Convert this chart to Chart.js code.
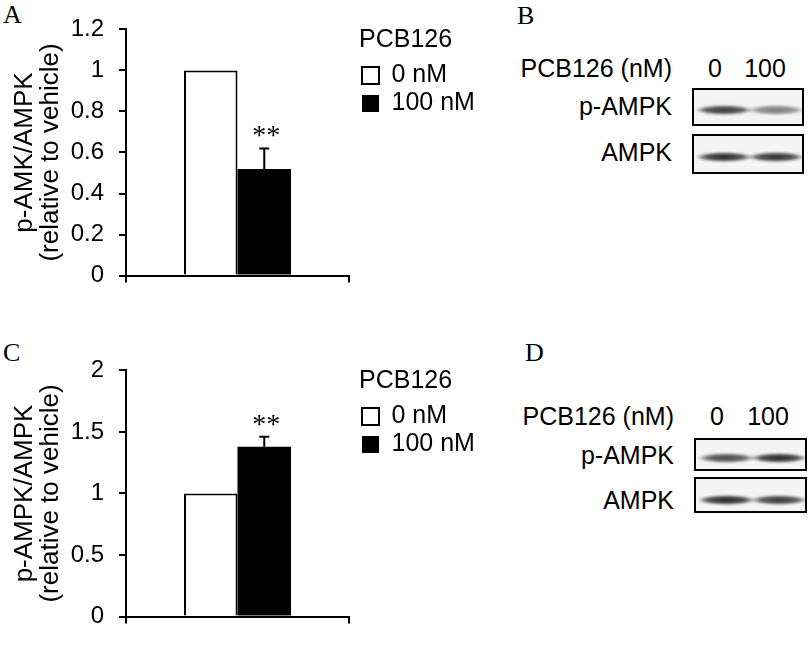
<!DOCTYPE html>
<html>
<head>
<meta charset="utf-8">
<title>PCB126 – AMPK</title>
<script src="https://cdn.jsdelivr.net/npm/chart.js@4.4.1/dist/chart.umd.min.js"></script>
<style>
  body { margin: 0; background: #fff; }
  #page { position: relative; width: 808px; height: 659px; overflow: hidden; font-family: 'Liberation Sans', Arial, sans-serif; color: #000; }
  .letter { position: absolute; font-family: 'Liberation Serif', 'Times New Roman', serif; font-size: 26px; line-height: 1; }
  .chart-box { position: absolute; left: 0; width: 474px; height: 305px; }
  .lbl { position: absolute; font-size: 25px; line-height: 1; white-space: nowrap; }
  .blot { position: absolute; box-sizing: border-box; border: 2px solid #000; background: #f4f4f4; overflow: hidden; }
  .band { position: absolute; filter: blur(0.8px); }
</style>
</head>
<body>
<div id="page">
  <div class="letter" style="left:3px;top:2px;">A</div>
  <div class="letter" style="left:517px;top:3px;">B</div>
  <div class="letter" style="left:3px;top:340px;">C</div>
  <div class="letter" style="left:525px;top:340px;">D</div>

  <div class="chart-box" style="top:0;"><canvas id="chartA" width="474" height="305"></canvas></div>
  <div class="chart-box" style="top:341px;"><canvas id="chartC" width="474" height="305"></canvas></div>
</div>

<script>
/* ── DATA ───────────────────────────────────────────────────── */
const groups      = [''];
const legendTitle = 'PCB126';
const doseLabels  = ['0 nM', '100 nM'];

// panel A: p-AMK/AMPK
const aControl = [1.0];
const aTreated = [0.52];
const aErr     = [0.10];
const aTicks   = [0, 0.2, 0.4, 0.6, 0.8, 1, 1.2];
const aTitle   = ['p-AMK/AMPK', '(relative to vehicle)'];

// panel C: p-AMPK/AMPK
const cControl = [1.0];
const cTreated = [1.38];
const cErr     = [0.08];
const cTicks   = [0, 0.5, 1, 1.5, 2];
const cTitle   = ['p-AMPK/AMPK', '(relative to vehicle)'];

const sigMarks = ['**'];

// blots: lane labels and band darkness (0..1) per lane, by eye
const laneLabels = ['0', '100'];
const blotRows   = ['p-AMPK', 'AMPK'];
const bandsB_p   = [0.88, 0.55];
const bandsB_t   = [0.95, 0.92];
const bandsD_p   = [0.8, 0.95];
const bandsD_t   = [0.97, 0.88];

/* ── CHART DEFAULTS ─────────────────────────────────────────── */
Chart.defaults.font.family = "'Liberation Sans', Arial, sans-serif";
Chart.defaults.color = '#000';

/* ── ERROR BARS + STARS ─────────────────────────────────────── */
const errorBarPlugin = {
  id: 'errorBars',
  afterDatasetsDraw(chart) {
    const { ctx } = chart;
    const y = chart.scales.y;
    chart.data.datasets.forEach((ds, di) => {
      if (!ds.errors) return;
      const meta = chart.getDatasetMeta(di);
      meta.data.forEach((bar, i) => {
        const err = ds.errors[i];
        if (!err) return;
        const top = y.getPixelForValue(ds.data[i] + err);
        ctx.save();
        ctx.strokeStyle = '#000';
        ctx.lineWidth = 2;
        ctx.beginPath();
        ctx.moveTo(bar.x, bar.y);
        ctx.lineTo(bar.x, top);
        ctx.moveTo(bar.x - 5, top);
        ctx.lineTo(bar.x + 5, top);
        ctx.stroke();
        if (ds.marks && ds.marks[i]) {
          ctx.fillStyle = '#000';
          ctx.font = "28px 'Liberation Serif', serif";
          ctx.textAlign = 'center';
          ctx.textBaseline = 'alphabetic';
          ctx.fillText(ds.marks[i], bar.x + 2, top - 4);
        }
        ctx.restore();
      });
    });
  }
};

/* ── BAR CHART ──────────────────────────────────────────────── */
function makeChart(id, title, control, treated, err, ticks) {
  const ctx = document.getElementById(id).getContext('2d');
  return new Chart(ctx, {
    type: 'bar',
    data: {
      labels: groups,
      datasets: [
        {
          label: doseLabels[0],
          data: control,
          backgroundColor: '#fff',
          borderColor: '#000',
          borderWidth: 2,
        },
        {
          label: doseLabels[1],
          data: treated,
          backgroundColor: '#000',
          borderColor: '#000',
          borderWidth: 0,
          errors: err,
          marks: sigMarks,
        },
      ],
    },
    options: {
      responsive: false,
      animation: false,
      layout: { padding: { top: 28, bottom: 8, left: 0, right: 0 } },
      datasets: { bar: { categoryPercentage: 0.48, barPercentage: 1.0 } },
      plugins: {
        tooltip: { enabled: false },
        legend: {
          position: 'right',
          align: 'start',
          maxWidth: 115,
          title: {
            display: true,
            text: legendTitle,
            position: 'start',
            color: '#000',
            font: { size: 25 },
            padding: { top: 0, bottom: 2 },
          },
          labels: {
            color: '#000',
            font: { size: 25 },
            boxWidth: 17,
            boxHeight: 17,
            padding: 3,
          },
        },
      },
      scales: {
        x: {
          ticks: { display: false },
          grid: { offset: true, drawOnChartArea: false, drawTicks: true, tickLength: 7, color: '#000', lineWidth: 2 },
          border: { color: '#000', width: 2 },
        },
        y: {
          min: ticks[0],
          max: ticks[ticks.length - 1],
          afterBuildTicks: s => { s.ticks = ticks.map(v => ({ value: v })); },
          afterFit: s => { s.width = 126; },
          ticks: { font: { size: 24 }, color: '#000', padding: 15, callback: v => String(v) },
          grid: { drawOnChartArea: false, drawTicks: true, tickLength: 7, color: '#000', lineWidth: 2 },
          border: { color: '#000', width: 2 },
          title: {
            display: true,
            text: title,
            color: '#000',
            font: { size: 26, lineHeight: 1.0 },
            padding: { top: 12, bottom: 0 },
          },
        },
        // spacer between plot and legend
        pad: {
          type: 'linear',
          position: 'right',
          grid: { display: false },
          border: { display: false },
          ticks: { display: false },
          afterFit: s => { s.width = 10; },
        },
      },
    },
    plugins: [errorBarPlugin],
  });
}

/* ── BLOTS ──────────────────────────────────────────────────── */
const page = document.getElementById('page');

function addLabel(text, x, y, align) {
  const el = document.createElement('div');
  el.className = 'lbl';
  el.textContent = text;
  el.style.top = y + 'px';
  if (align === 'right') {
    el.style.right = (808 - x) + 'px';
    el.style.transform = 'translateY(-50%)';
  } else {
    el.style.left = x + 'px';
    el.style.transform = 'translate(-50%, -50%)';
  }
  page.appendChild(el);
}

function addBlot(x, y, w, h, shades, bandY) {
  const box = document.createElement('div');
  box.className = 'blot';
  Object.assign(box.style, { left: x + 'px', top: y + 'px', width: w + 'px', height: h + 'px' });
  const laneW = (w - 8) / shades.length;
  shades.forEach((s, i) => {
    const b = document.createElement('div');
    b.className = 'band';
    Object.assign(b.style, {
      left: (1 + i * laneW) + 'px',
      top: (bandY - 5) + 'px',
      width: (laneW + 6) + 'px',
      height: '10px',
      background: `radial-gradient(ellipse closest-side, rgba(25,25,25,${s}) 0%, rgba(25,25,25,${(s * 0.75).toFixed(2)}) 65%, rgba(25,25,25,0) 100%)`,
    });
    box.appendChild(b);
  });
  page.appendChild(box);
}

function drawBlotPanel(top, right, laneX, rowY, boxes, shades) {
  addLabel('PCB126 (nM)', right, top, 'right');
  laneLabels.forEach((t, i) => addLabel(t, laneX[i], top, 'center'));
  blotRows.forEach((t, i) => {
    addLabel(t, right, rowY[i], 'right');
    const bx = boxes[i];
    addBlot(bx[0], bx[1], bx[2], bx[3], shades[i], bx[4]);
  });
}

drawBlotPanel(68, 672, [715, 765], [106, 152],
  [[692, 88, 112, 38, 20], [692, 134, 112, 40, 21]],
  [bandsB_p, bandsB_t]);

drawBlotPanel(416, 674, [717, 768], [455, 500],
  [[694, 438, 113, 33, 18], [694, 477, 113, 36, 21]],
  [bandsD_p, bandsD_t]);

/* ── INIT ───────────────────────────────────────────────────── */
makeChart('chartA', aTitle, aControl, aTreated, aErr, aTicks);
makeChart('chartC', cTitle, cControl, cTreated, cErr, cTicks);
</script>
</body>
</html>
